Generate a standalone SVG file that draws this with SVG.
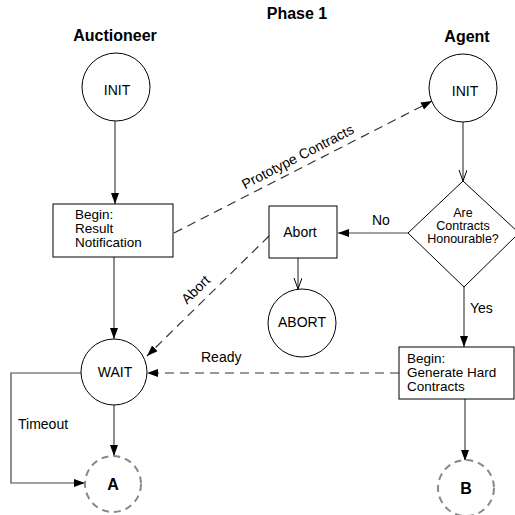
<svg xmlns="http://www.w3.org/2000/svg" width="515" height="515" viewBox="0 0 515 515">
<defs>
<marker id="fa" markerUnits="userSpaceOnUse" markerWidth="12" markerHeight="10" refX="11" refY="4" orient="auto"><path d="M0,0 L11,4 L0,8 z" fill="#000"/></marker>
<marker id="oa" markerUnits="userSpaceOnUse" markerWidth="12" markerHeight="10" refX="11" refY="4" orient="auto"><path d="M0,0 L11,4 L0,8" fill="none" stroke="#000" stroke-width="1"/></marker>
</defs>
<style>
text{font-family:"Liberation Sans",Arial,sans-serif;font-size:14px;fill:#000}
.t{font-weight:bold;font-size:16px}
.c{text-anchor:middle}
.n{fill:#fff;stroke:#000;stroke-width:1}
.d{fill:#fff;stroke:#888;stroke-width:2;stroke-dasharray:7,5}
.l{fill:none;stroke:#444;stroke-width:1.2}
.dl{fill:none;stroke:#333;stroke-width:1.2;stroke-dasharray:9,6}
.b{font-weight:bold;font-size:16px}
.m{font-size:13.5px}
.s{font-size:12.5px}
</style>
<rect width="515" height="515" fill="#fff"/>
<text class="t c" x="297" y="19">Phase 1</text>
<text class="t c" x="115" y="41">Auctioneer</text>
<text class="t c" x="467" y="42">Agent</text>
<g id="connectors">
<path class="l" d="M115,121 V204" marker-end="url(#fa)"/>
<path class="l" d="M114,257 V339" marker-end="url(#fa)"/>
<path class="l" d="M114,405 V456" marker-end="url(#fa)"/>
<path class="l" d="M81,373 H11 V483 H85" marker-end="url(#fa)"/>
<text x="18" y="429">Timeout</text>
<path class="dl" d="M174,233 L432,101" marker-end="url(#fa)"/>
<text class="c" x="300" y="161" transform="rotate(-27.3 300 161)">Prototype Contracts</text>
<path class="l" d="M463,122 V181" marker-end="url(#oa)"/>
<path class="l" d="M408,233 H338" marker-end="url(#fa)"/>
<text x="372" y="225">No</text>
<path class="l" d="M298,258 V289" marker-end="url(#oa)"/>
<path class="dl" d="M269,236 L147,356" marker-end="url(#fa)"/>
<text class="c" x="199" y="293" transform="rotate(-44.5 199 293)">Abort</text>
<path class="l" d="M464,287 V347" marker-end="url(#fa)"/>
<text x="470" y="313">Yes</text>
<path class="dl" d="M399,373 H147" marker-end="url(#fa)"/>
<text x="201" y="362">Ready</text>
<path class="l" d="M465,399 V461" marker-end="url(#fa)"/>
</g>
<g id="a-init"><circle class="n" cx="116" cy="87" r="34"/><text class="c" x="117" y="95">INIT</text></g>
<g id="b-init"><circle class="n" cx="463" cy="88" r="34"/><text class="c" x="465" y="96">INIT</text></g>
<g id="result"><rect class="n" x="53" y="204" width="120" height="53"/><text class="m" x="75" y="219">Begin:</text><text class="m" x="75" y="233">Result</text><text class="m" x="75" y="247">Notification</text></g>
<g id="wait"><circle class="n" cx="114" cy="372" r="33"/><text class="c" x="115" y="377">WAIT</text></g>
<g id="a"><circle class="d" cx="113" cy="484" r="28"/><text class="b c" x="113" y="490">A</text></g>
<g id="decide"><path class="n" d="M463,181 L519,233 L464,287 L408,233 z"/><text class="c s" x="463" y="217">Are</text><text class="c s" x="463" y="230">Contracts</text><text class="c s" x="463" y="243">Honourable?</text></g>
<g id="abort-box"><rect class="n" x="269" y="206" width="68" height="52"/><text class="c" x="300" y="237">Abort</text></g>
<g id="abort"><circle class="n" cx="302" cy="323" r="34"/><text class="c" x="302" y="327">ABORT</text></g>
<g id="hard"><rect class="n" x="399" y="347" width="115" height="52"/><text class="m" x="407" y="363">Begin:</text><text class="m" x="407" y="377">Generate Hard</text><text class="m" x="407" y="391">Contracts</text></g>
<g id="b"><circle class="d" cx="466" cy="488" r="28"/><text class="b c" x="466" y="494">B</text></g>
</svg>
